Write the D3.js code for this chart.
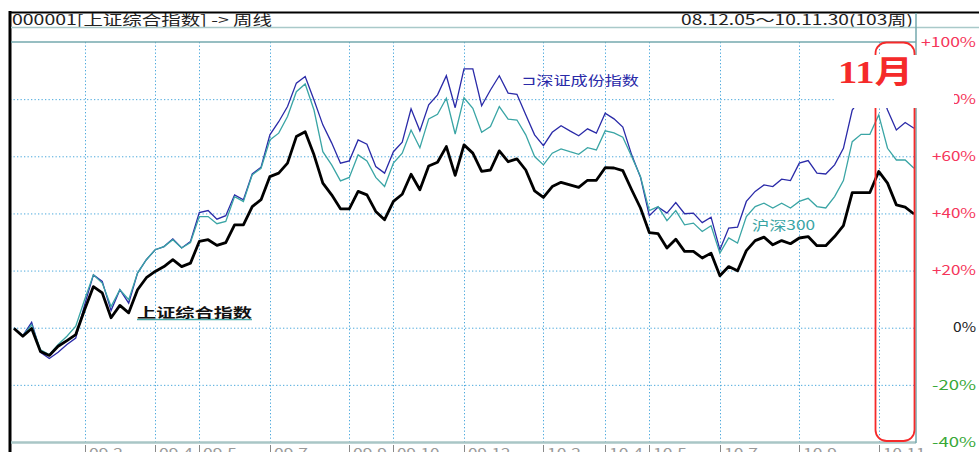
<!DOCTYPE html>
<html>
<head>
<meta charset="utf-8">
<script src="https://cdn.jsdelivr.net/npm/d3@7"></script>
<style>
body { margin: 0; background: #fff; }
svg  { display: block; }
text { font-family: "Noto Sans CJK SC", "DejaVu Sans", sans-serif; }
</style>
</head>
<body>
<svg id="chart"></svg>
<script>
// weekly % change since 08.12.05 (103 weeks)
var shComposite = [-0.3, -3.0, -0.3, -8.3, -9.7, -6.5, -4.5, -2.4, 6.3, 14.4,
                   12.2, 3.5, 7.8, 5.2, 13.3, 17.5, 19.7, 21.4, 23.8, 21.4,
                   22.6, 30.2, 30.8, 28.8, 29.8, 36.0, 36.0, 42.4, 44.8, 52.9,
                   54.1, 57.6, 66.9, 68.6, 60.5, 50.6, 46.5, 41.6, 41.6, 47.7,
                   46.5, 40.7, 37.8, 44.2, 46.7, 53.7, 48.3, 56.6, 57.9, 63.4,
                   53.3, 64.0, 61.1, 54.7, 55.2, 61.9, 58.1, 59.1, 55.2, 47.9,
                   45.6, 49.4, 50.9, 50.0, 49.1, 51.6, 51.6, 56.0, 55.9, 55.0,
                   48.3, 41.9, 33.3, 32.9, 27.9, 31.0, 26.7, 26.7, 24.4, 26.1,
                   18.2, 21.4, 19.9, 27.0, 30.5, 31.7, 29.0, 30.5, 29.4, 31.4,
                   31.9, 28.7, 28.7, 31.9, 35.7, 47.3, 47.3, 47.3, 54.7, 50.6,
                   43.0, 42.2, 39.8];

var szComponent = [0.0, -2.8, 1.9, -8.6, -10.8, -8.6, -5.9, -3.6, 8.0, 18.5,
                   16.2, 6.0, 13.3, 8.6, 19.1, 23.8, 27.3, 28.4, 31.1, 27.9,
                   30.2, 40.3, 41.0, 38.0, 39.2, 46.5, 44.8, 53.8, 56.2, 67.5,
                   72.1, 77.4, 85.6, 87.9, 79.7, 71.0, 64.7, 57.6, 58.4, 65.7,
                   64.2, 56.4, 54.1, 61.6, 64.9, 76.6, 68.9, 78.0, 81.5, 88.2,
                   77.0, 90.6, 90.6, 77.7, 83.2, 88.2, 82.1, 81.7, 74.5, 67.5,
                   63.7, 68.4, 70.7, 68.9, 67.2, 69.6, 68.1, 75.1, 73.1, 70.2,
                   60.5, 52.7, 39.2, 42.2, 40.1, 43.8, 39.9, 40.1, 36.8, 38.7,
                   27.3, 34.9, 35.2, 44.2, 47.7, 50.0, 49.4, 52.0, 51.5, 57.6,
                   58.5, 54.1, 53.8, 57.0, 62.8, 76.2, 80.4, 82.5, 85.0, 76.2,
                   69.2, 71.8, 69.8];

var hs300 = [0.0, -2.8, 1.0, -7.7, -9.4, -5.9, -3.0, 0.5, 9.8, 18.5,
             15.6, 7.4, 13.3, 9.8, 19.1, 23.8, 27.3, 28.4, 30.8, 27.9,
             29.8, 38.9, 38.9, 36.4, 37.2, 45.9, 44.2, 53.5, 55.8, 65.7,
             68.1, 73.9, 82.6, 85.3, 76.2, 61.6, 57.0, 51.4, 52.6, 60.5,
             58.4, 52.6, 49.4, 57.6, 61.1, 69.2, 63.0, 73.1, 74.7, 80.3,
             67.8, 80.5, 76.8, 68.4, 70.4, 77.4, 73.0, 72.7, 67.5, 59.9,
             57.0, 61.1, 62.6, 61.6, 60.7, 63.0, 62.2, 68.9, 68.2, 66.7,
             59.9, 52.9, 41.0, 42.4, 37.5, 41.0, 36.0, 36.6, 33.7, 35.7,
             26.1, 31.4, 29.6, 38.9, 42.4, 43.6, 41.9, 43.6, 41.9, 44.2,
             45.3, 42.4, 41.9, 45.9, 51.5, 65.1, 67.7, 67.7, 74.5, 62.8,
             58.7, 58.7, 55.8];

var monthLabels = ["09.2", "09.4", "09.5", "09.7", "09.9", "09.10", "09.12",
                   "10.2", "10.4", "10.5", "10.7", "10.9", "10.11"];
var monthWeeks  = [8, 16, 21, 29, 38, 43, 51, 60, 67, 72, 80, 89, 98];

var pctTicks = [100, 80, 60, 40, 20, 0, -20, -40];

var W = 979, H = 452;
var plot = {left: 10, right: 916, top: 42, bottom: 442};

var svg = d3.select("#chart").attr("width", W).attr("height", H);

var x = d3.scaleLinear().domain([0, shComposite.length - 1]).range([14, 914]);
var y = d3.scaleLinear().domain([-40, 100]).range([plot.bottom, plot.top]);

svg.append("rect").attr("width", W).attr("height", H).attr("fill", "#fff");

// header
svg.append("text").attr("x", 12).attr("y", 25)
   .attr("font-size", 14).attr("fill", "#222")
   .attr("textLength", 260).attr("lengthAdjust", "spacingAndGlyphs")
   .text("000001[上证综合指数] -> 周线");
svg.append("text").attr("x", 681).attr("y", 25)
   .attr("font-size", 14).attr("fill", "#222")
   .attr("textLength", 232).attr("lengthAdjust", "spacingAndGlyphs")
   .text("08.12.05～10.11.30(103周)");

// grid (dotted)
var dot = "1.3,2.2";
svg.append("g").selectAll("line")
   .data(pctTicks.filter(function(d) { return d < 100 && d > -40; }))
   .enter().append("line")
   .attr("x1", plot.left).attr("x2", plot.right)
   .attr("y1", function(d) { return y(d) + 0.5; })
   .attr("y2", function(d) { return y(d) + 0.5; })
   .attr("stroke", "#4aa8dc").attr("stroke-dasharray", dot);
svg.append("g").selectAll("line")
   .data(monthWeeks)
   .enter().append("line")
   .attr("x1", function(d) { return Math.round(x(d)) + 0.5; })
   .attr("x2", function(d) { return Math.round(x(d)) + 0.5; })
   .attr("y1", plot.top).attr("y2", plot.bottom)
   .attr("stroke", "#4aa8dc").attr("stroke-dasharray", dot);

// bottom month labels (cut by the window edge, as in the original)
var mt = svg.append("g").selectAll("g").data(monthWeeks).enter().append("g")
   .attr("transform", function(d) { return "translate(" + Math.round(x(d)) + ",0)"; });
mt.append("line").attr("x1", 0.5).attr("x2", 0.5).attr("y1", 445).attr("y2", 452)
  .attr("stroke", "#888");
mt.append("text").attr("x", 4).attr("y", 458)
  .attr("font-size", 13).attr("fill", "#999")
  .attr("textLength", function(d, i) { return monthLabels[i].length * 8.5; })
  .attr("lengthAdjust", "spacingAndGlyphs")
  .text(function(d, i) { return monthLabels[i]; });

// series
var line = function(vals) {
	return d3.line().x(function(d, i) { return x(i); }).y(function(d) { return y(d); })(vals);
};
svg.append("path").attr("d", line(szComponent)).attr("fill", "none")
   .attr("stroke", "#2a2aa8").attr("stroke-width", 1.3);
svg.append("path").attr("d", line(hs300)).attr("fill", "none")
   .attr("stroke", "#3aa5a5").attr("stroke-width", 1.3);
svg.append("path").attr("d", line(shComposite)).attr("fill", "none")
   .attr("stroke", "#000").attr("stroke-width", 2.8).attr("stroke-linejoin", "round");

// series labels
svg.append("line").attr("x1", 137).attr("x2", 252).attr("y1", 319.5).attr("y2", 319.5)
   .attr("stroke", "#4aa8a8").attr("stroke-width", 1.5);
svg.append("text").attr("x", 137).attr("y", 317)
   .attr("font-size", 13).attr("font-weight", "bold").attr("fill", "#111")
   .attr("textLength", 115).attr("lengthAdjust", "spacingAndGlyphs")
   .text("上证综合指数");
svg.append("text").attr("x", 522).attr("y", 85)
   .attr("font-size", 13).attr("fill", "#2a2aa8")
   .attr("textLength", 117).attr("lengthAdjust", "spacingAndGlyphs")
   .text("⊐深证成份指数");
svg.append("text").attr("x", 752).attr("y", 230)
   .attr("font-size", 13).attr("fill", "#3aa5a5")
   .attr("textLength", 63).attr("lengthAdjust", "spacingAndGlyphs")
   .text("沪深300");

// frame
svg.append("line").attr("x1", 9).attr("x2", W).attr("y1", 12.5).attr("y2", 12.5)
   .attr("stroke", "#000").attr("stroke-width", 2);
svg.append("line").attr("x1", 10).attr("x2", 10).attr("y1", 11).attr("y2", H)
   .attr("stroke", "#000").attr("stroke-width", 3);
svg.append("line").attr("x1", 11).attr("x2", W).attr("y1", 27.5).attr("y2", 27.5)
   .attr("stroke", "#a9c9c9").attr("stroke-width", 1.5);
svg.append("line").attr("x1", 11).attr("x2", plot.right).attr("y1", 42).attr("y2", 42)
   .attr("stroke", "#74a8ae").attr("stroke-width", 1.5);
svg.append("line").attr("x1", 11).attr("x2", plot.right).attr("y1", 442.5).attr("y2", 442.5)
   .attr("stroke", "#a9c6c6").attr("stroke-width", 2.5);
svg.append("line").attr("x1", plot.right).attr("x2", plot.right).attr("y1", 13).attr("y2", 443)
   .attr("stroke", "#74a8ae").attr("stroke-width", 1.5);

// right % axis
svg.append("g").selectAll("text").data(pctTicks).enter().append("text")
   .attr("x", 976).attr("y", function(d) { return y(d); })
   .attr("dy", "0.36em").attr("text-anchor", "end").attr("font-size", 13)
   .attr("fill", function(d) { return d > 0 ? "#f5355a" : (d < 0 ? "#38a838" : "#222"); })
   .attr("textLength", function(d) { return d === 0 ? 23 : (d === 100 ? 55 : 44); })
   .attr("lengthAdjust", "spacingAndGlyphs")
   .text(function(d) { return (d > 0 ? "+" : "") + d + "%"; });

// November highlight
svg.append("rect").attr("x", 875.5).attr("y", 42.5).attr("width", 39).attr("height", 398.5)
   .attr("rx", 11).attr("ry", 11).attr("fill", "none")
   .attr("stroke", "#f52a2a").attr("stroke-width", 1.8);
svg.append("rect").attr("x", 835).attr("y", 55).attr("width", 119).attr("height", 53)
   .attr("fill", "#fff");
svg.append("text").attr("x", 838).attr("y", 83)
   .attr("font-size", 32).attr("font-weight", "bold").attr("fill", "#f52a2a")
   .style("font-family", "'Liberation Serif', 'DejaVu Serif', 'Noto Sans CJK SC', serif")
   .attr("textLength", 75).attr("lengthAdjust", "spacingAndGlyphs")
   .text("11月");
</script>
</body>
</html>
